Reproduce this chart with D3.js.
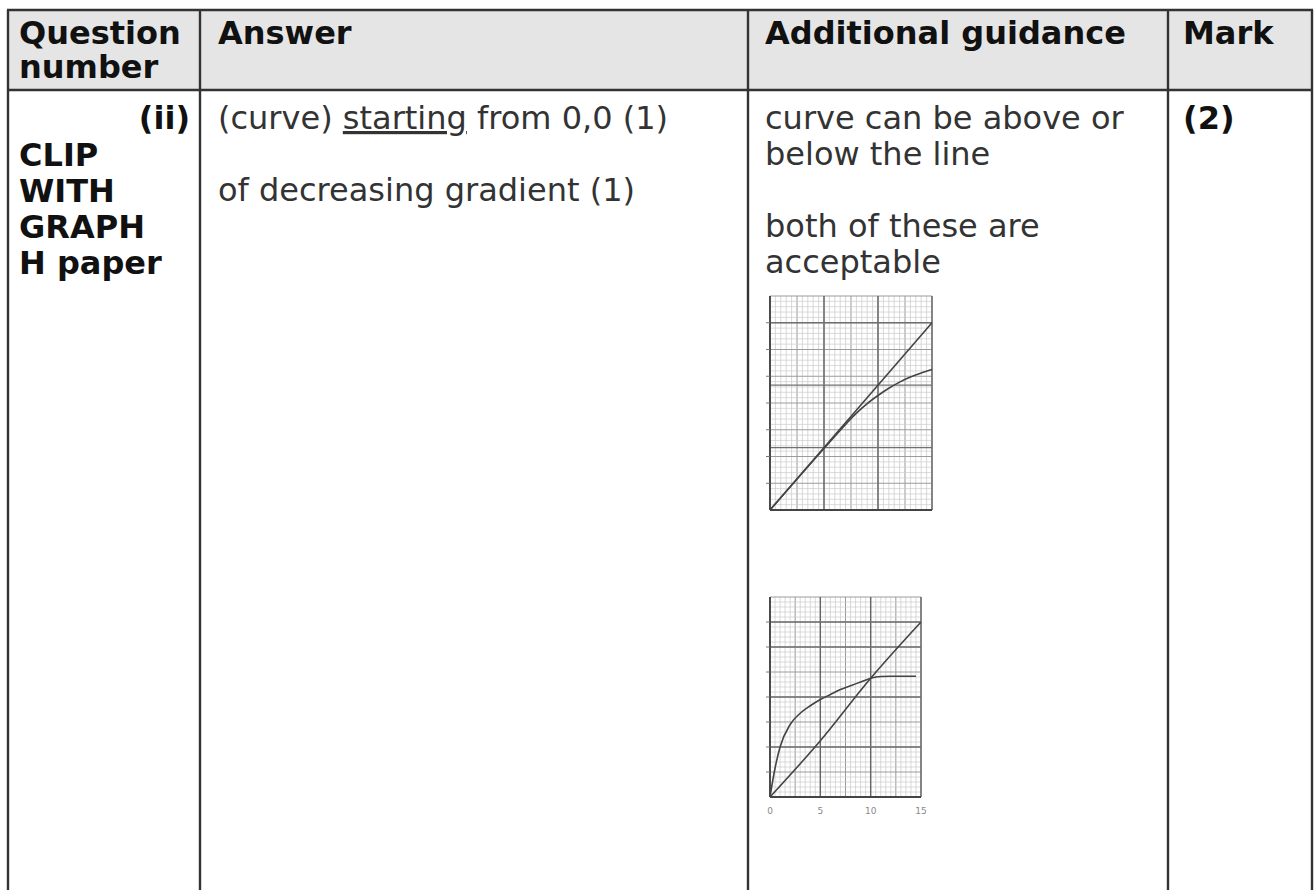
<!DOCTYPE html>
<html lang="en">
<head>
  <meta charset="UTF-8">
  <title>Mark scheme - curve from 0,0</title>
  <script src="https://d3js.org/d3.v7.min.js"></script>
  <style>
    body { margin: 0; padding: 0; background: #fff; }
    svg text { font-family: "DejaVu Sans", Verdana, sans-serif; }
  </style>
</head>
<body>
  <svg id="chart" width="1316" height="890"></svg>

  <script>
    // table text
    const headerLines = [["Question", "number"], ["Answer"], ["Additional guidance"], ["Mark"]];
    const questionLines = ["(ii)", "CLIP", "WITH", "GRAPH", "H paper"];
    const guidanceLines = ["curve can be above or", "below the line", "", "both of these are", "acceptable"];
    const markText = "(2)";

    // sketch graphs (x 0..15, y in grid units)
    const xTickLabels = [0, 5, 10, 15];
    const lineA = [[0, 0], [15, 7]];
    const curveA = [[0, 0], [5, 2.3], [7, 3.2], [8, 3.62], [9, 3.98], [10, 4.28], [11, 4.55],
                    [12, 4.78], [13, 4.97], [14, 5.12], [15, 5.25]];
    const lineB = [[0, 0], [5, 2.25], [10, 4.75], [15, 7]];
    const curveB = [[0, 0], [0.5, 1.15], [1, 2.0], [2, 2.9], [3, 3.35], [4, 3.65], [5, 3.9], [6, 4.1],
                    [7, 4.3], [8, 4.45], [9, 4.6], [10, 4.75], [11, 4.82], [12, 4.83], [14.5, 4.83]];

    const svg = d3.select("#chart");
    const W = 1316, H = 890;

    const colX = [8, 200, 748, 1168, 1312];
    const tableTop = 10, headBottom = 90;
    const fs = 32, lh = 36;

    // header background
    svg.append("rect")
      .attr("x", colX[0]).attr("y", tableTop)
      .attr("width", colX[4] - colX[0]).attr("height", headBottom - tableTop)
      .attr("fill", "#e5e5e5");

    // header text
    const padL = [11, 18, 17, 15];
    headerLines.forEach((lines, i) => {
      lines.forEach((t, j) => {
        svg.append("text")
          .attr("x", colX[i] + padL[i]).attr("y", 44 + j * 34)
          .attr("font-size", fs).attr("font-weight", "bold")
          .attr("fill", "#111").text(t);
      });
    });

    const row0 = 129;

    // question column
    questionLines.forEach((t, j) => {
      svg.append("text")
        .attr("x", j === 0 ? colX[1] - 10 : colX[0] + 11)
        .attr("y", row0 + j * lh + (j > 0 ? 1 : 0))
        .attr("text-anchor", j === 0 ? "end" : "start")
        .attr("font-size", fs).attr("font-weight", "bold")
        .attr("fill", "#111").text(t);
    });

    // answer column
    const a1 = svg.append("text")
      .attr("x", colX[1] + 18).attr("y", row0)
      .attr("font-size", fs).attr("fill", "#333");
    a1.append("tspan").text("(curve) ");
    a1.append("tspan").attr("text-decoration", "underline").text("starting");
    a1.append("tspan").text(" from 0,0 (1)");

    svg.append("text")
      .attr("x", colX[1] + 18).attr("y", row0 + 2 * lh)
      .attr("font-size", fs).attr("fill", "#333")
      .text("of decreasing gradient (1)");

    // guidance column
    guidanceLines.forEach((t, j) => {
      svg.append("text")
        .attr("x", colX[2] + 17).attr("y", row0 + j * lh)
        .attr("font-size", fs).attr("fill", "#333").text(t);
    });

    // mark column
    svg.append("text")
      .attr("x", colX[3] + 15).attr("y", row0)
      .attr("font-size", fs).attr("font-weight", "bold")
      .attr("fill", "#111").text(markText);

    // sketch graphs
    function drawGraph(x0, x1, y0, y1, line, curve, majorY, labels) {
      const g = svg.append("g");
      const x = d3.scaleLinear().domain([0, 15]).range([x0, x1]);
      const y = d3.scaleLinear().domain([0, 8]).range([y0, y1]);

      const minorX = d3.range(0, 15.01, 0.5);
      const minorY = d3.range(0, 8.01, 0.2);
      g.selectAll(".mx").data(minorX).join("line")
        .attr("x1", d => x(d)).attr("x2", d => x(d))
        .attr("y1", y(0)).attr("y2", y(8))
        .attr("stroke", d => (d % 2.5 === 0) ? "#999" : "#c8c8c8")
        .attr("stroke-width", d => (d % 2.5 === 0) ? 1 : 0.7);
      g.selectAll(".my").data(minorY).join("line")
        .attr("x1", x(0)).attr("x2", x(15))
        .attr("y1", d => y(d)).attr("y2", d => y(d))
        .attr("stroke", d => (Math.abs(d - Math.round(d)) < 0.01) ? "#9c9c9c" : "#cbcbcb")
        .attr("stroke-width", d => (Math.abs(d - Math.round(d)) < 0.01) ? 1 : 0.7);

      // heavier lines
      g.selectAll(".Mx").data(xTickLabels).join("line")
        .attr("x1", d => x(d)).attr("x2", d => x(d))
        .attr("y1", y(0)).attr("y2", y(8))
        .attr("stroke", "#666").attr("stroke-width", 1.4);
      g.selectAll(".My").data(majorY).join("line")
        .attr("x1", x(0)).attr("x2", x(15))
        .attr("y1", d => y(d)).attr("y2", d => y(d))
        .attr("stroke", "#707070").attr("stroke-width", 1.3);

      // axes
      g.append("line").attr("x1", x(0)).attr("x2", x(15)).attr("y1", y(0)).attr("y2", y(0))
        .attr("stroke", "#444").attr("stroke-width", 1.8);
      g.append("line").attr("x1", x(0)).attr("x2", x(0)).attr("y1", y(0)).attr("y2", y(8))
        .attr("stroke", "#444").attr("stroke-width", 1.8);
      g.selectAll(".tk").data(d3.range(1, 8)).join("line")
        .attr("x1", x(0) - 4).attr("x2", x(0))
        .attr("y1", d => y(d)).attr("y2", d => y(d))
        .attr("stroke", "#777").attr("stroke-width", 1);

      const lineGen = d3.line().x(d => x(d[0])).y(d => y(d[1])).curve(d3.curveMonotoneX);
      g.append("path").datum(line).attr("d", lineGen)
        .attr("fill", "none").attr("stroke", "#444").attr("stroke-width", 1.6);
      g.append("path").datum(curve).attr("d", lineGen)
        .attr("fill", "none").attr("stroke", "#444").attr("stroke-width", 1.6);

      if (labels) {
        g.selectAll(".lb").data(xTickLabels).join("text")
          .attr("x", d => x(d)).attr("y", y(0) + 17)
          .attr("text-anchor", "middle")
          .attr("font-size", 9).attr("fill", "#888")
          .text(d => d);
      }
    }

    drawGraph(770, 932, 510, 296, lineA, curveA, [0, 7 / 3, 14 / 3, 7], false);
    drawGraph(770, 921, 797, 597, lineB, curveB, [0, 2, 4, 6, 7], true);

    // table rules
    const rule = "#333";
    colX.forEach(cx => {
      svg.append("line")
        .attr("x1", cx).attr("x2", cx).attr("y1", tableTop).attr("y2", H)
        .attr("stroke", rule).attr("stroke-width", 2.4);
    });
    [tableTop, headBottom].forEach(yy => {
      svg.append("line")
        .attr("x1", colX[0] - 1).attr("x2", colX[4] + 1).attr("y1", yy).attr("y2", yy)
        .attr("stroke", rule).attr("stroke-width", 2.4);
    });
  </script>
</body>
</html>
